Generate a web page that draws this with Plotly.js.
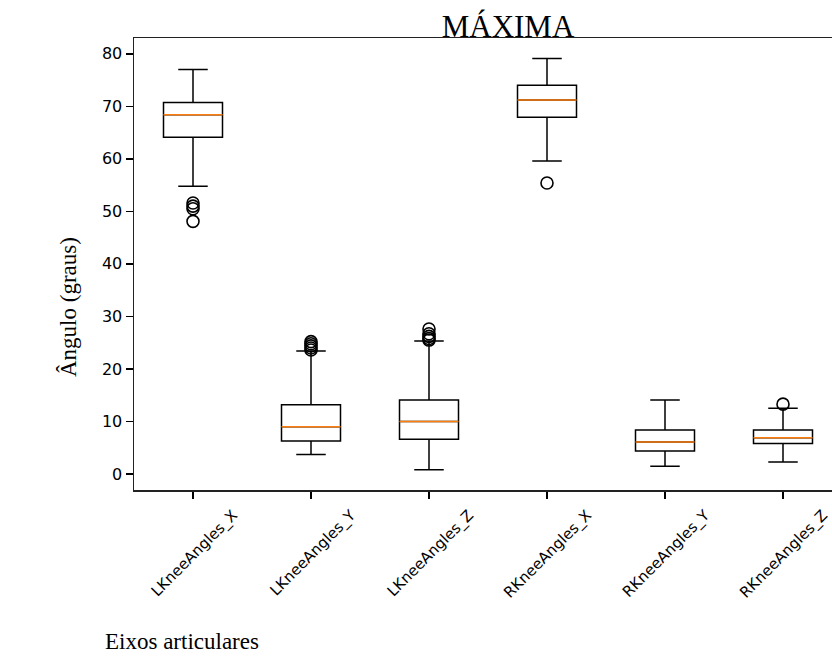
<!DOCTYPE html>
<html>
<head>
<meta charset="utf-8">
<script src="https://cdn.plot.ly/plotly-3.0.1.min.js"></script>
<style>
  html, body { margin: 0; padding: 0; overflow: hidden; background: #fff; }
  #chart { width: 850px; height: 657px; }
</style>
</head>
<body>
<div id="chart"></div>
<script>
// Joint axes (knee angles) and their maximum-angle box statistics, in degrees
const categories = ['LKneeAngles_X', 'LKneeAngles_Y', 'LKneeAngles_Z',
                    'RKneeAngles_X', 'RKneeAngles_Y', 'RKneeAngles_Z'];
const positions = [1, 2, 3, 4, 5, 6];

const lowerWhisker = [54.8, 3.7, 0.8, 59.6, 1.5, 2.3];
const q1Values     = [64.1, 6.3, 6.6, 67.9, 4.4, 5.8];
const medianValues = [68.4, 9.0, 10.0, 71.2, 6.1, 6.9];
const q3Values     = [70.7, 13.2, 14.1, 74.0, 8.4, 8.4];
const upperWhisker = [77.0, 23.4, 25.3, 79.1, 14.1, 12.5];

// Fliers beyond the whiskers, one list per joint axis
const outliers = [
  [51.6, 51.0, 50.5, 48.1],
  [25.2, 24.8, 24.4, 24.0, 23.6],
  [27.6, 26.7, 26.2, 25.8, 25.5],
  [55.4],
  [],
  [13.3]
];

const yTicks = [0, 10, 20, 30, 40, 50, 60, 70, 80];

const serif = 'Liberation Serif, Times New Roman, serif';
const sans = 'DejaVu Sans, sans-serif';

// Boxes and whiskers
const boxes = {
  type: 'box',
  x: positions,
  q1: q1Values,
  median: medianValues,
  q3: q3Values,
  lowerfence: lowerWhisker,
  upperfence: upperWhisker,
  width: 0.5,
  whiskerwidth: 0.5,
  boxpoints: false,
  fillcolor: 'rgba(0,0,0,0)',
  line: { color: '#000000', width: 1.5 },
  hoverinfo: 'skip',
  showlegend: false
};

// Median lines drawn as flat boxes in orange
const medians = {
  type: 'box',
  x: positions,
  q1: medianValues,
  median: medianValues,
  q3: medianValues,
  lowerfence: medianValues,
  upperfence: medianValues,
  width: 0.5,
  whiskerwidth: 0,
  boxpoints: false,
  fillcolor: 'rgba(0,0,0,0)',
  line: { color: '#ff7f0e', width: 1.5 },
  hoverinfo: 'skip',
  showlegend: false
};

const flierX = [], flierY = [];
outliers.forEach((list, i) => list.forEach(v => { flierX.push(positions[i]); flierY.push(v); }));

const fliers = {
  type: 'scatter',
  mode: 'markers',
  x: flierX,
  y: flierY,
  marker: { symbol: 'circle-open', size: 12, color: '#000000', line: { width: 1.6, color: '#000000' } },
  hoverinfo: 'skip',
  showlegend: false
};

const layout = {
  width: 850,
  height: 657,
  margin: { l: 134, r: 8, t: 38, b: 167 },
  paper_bgcolor: '#ffffff',
  plot_bgcolor: '#ffffff',
  boxmode: 'overlay',
  showlegend: false,
  title: {
    text: 'MÁXIMA',
    font: { family: serif, size: 31, color: '#000000' },
    x: 508 / 850,
    xanchor: 'center',
    xref: 'container',
    yref: 'container',
    y: 1 - 37 / 657,
    yanchor: 'bottom',
    pad: { t: 0, b: 0, l: 0, r: 0 }
  },
  xaxis: {
    range: [0.5, 6.5],
    tickmode: 'array',
    tickvals: positions,
    ticktext: categories,
    tickangle: -45,
    ticklabelshift: 40,
    ticklabelstandoff: 2,
    ticks: 'outside',
    ticklen: 7,
    tickwidth: 1.5,
    tickcolor: '#000000',
    tickfont: { family: sans, size: 15, color: '#000000' },
    showline: true,
    linecolor: '#222222',
    linewidth: 1.5,
    mirror: true,
    showgrid: false,
    zeroline: false
  },
  yaxis: {
    range: [-3.04, 83.0],
    tickmode: 'array',
    tickvals: yTicks,
    ticktext: yTicks.map(String),
    ticks: 'outside',
    ticklen: 7,
    tickwidth: 1.5,
    tickcolor: '#000000',
    tickfont: { family: sans, size: 16, color: '#000000' },
    showline: true,
    linecolor: '#222222',
    linewidth: 1.5,
    mirror: true,
    showgrid: false,
    zeroline: false
  },
  annotations: [
    {
      text: 'Ângulo (graus)',
      textangle: -90,
      xref: 'paper', yref: 'paper',
      x: (68 - 134) / 708, y: (490 - 307) / 452,
      xanchor: 'center', yanchor: 'middle',
      showarrow: false,
      font: { family: serif, size: 23, color: '#000000' }
    },
    {
      text: 'Eixos articulares',
      xref: 'paper', yref: 'paper',
      x: (103 - 134) / 708, y: -(641 - 490) / 452,
      xanchor: 'left', yanchor: 'middle',
      showarrow: false,
      font: { family: serif, size: 23, color: '#000000' }
    }
  ]
};

Plotly.newPlot('chart', [boxes, medians, fliers], layout, { displayModeBar: false, staticPlot: true });
</script>
</body>
</html>
